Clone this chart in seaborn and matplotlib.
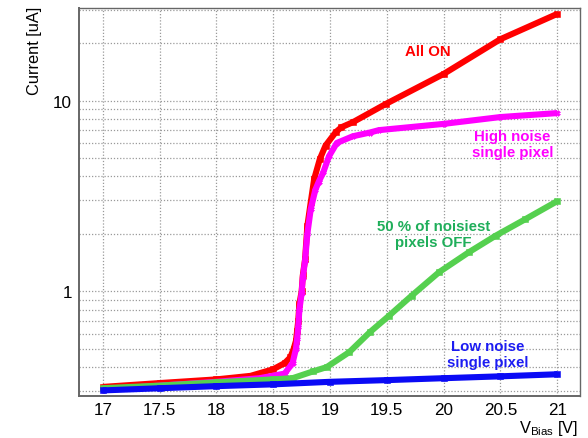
import numpy as np
import pandas as pd
import matplotlib
matplotlib.use("Agg")
import matplotlib.pyplot as plt
import matplotlib.ticker as mticker
import seaborn as sns

# Bias scan: current vs bias voltage for four pixel configurations
v_all_on = [17.0, 17.5, 18.0, 18.3, 18.5, 18.6, 18.65, 18.68, 18.70, 18.71, 18.72,
            18.73, 18.75, 18.76, 18.78, 18.80, 18.83, 18.86, 18.91, 18.96, 19.05,
            19.1, 19.2, 19.49, 20.0, 20.5, 21.0]
i_all_on = [0.315, 0.33, 0.345, 0.36, 0.39, 0.42, 0.45, 0.50, 0.55, 0.62, 0.70,
            0.86, 1.0, 1.21, 1.47, 2.2, 2.93, 3.88, 4.94, 5.81, 6.83,
            7.25, 7.7, 9.6, 13.8, 21.0, 28.5]

v_high = [17.0, 17.5, 18.0, 18.38, 18.6, 18.67, 18.70, 18.71, 18.72, 18.73, 18.75,
          18.76, 18.78, 18.80, 18.83, 18.87, 18.90, 18.94, 18.99, 19.06, 19.2,
          19.35, 19.43, 20.0, 20.5, 21.0]
i_high = [0.305, 0.32, 0.335, 0.35, 0.37, 0.42, 0.50, 0.56, 0.65, 0.80, 0.98,
          1.18, 1.45, 2.0, 2.7, 3.4, 3.75, 4.2, 5.1, 6.0, 6.5,
          6.8, 7.0, 7.55, 8.2, 8.6]

v_half_off = [17.0, 17.5, 18.0, 18.5, 18.67, 18.85, 18.97, 19.17, 19.35, 19.52,
              19.72, 19.96, 20.22, 20.46, 20.72, 21.0]
i_half_off = [0.31, 0.32, 0.333, 0.345, 0.35, 0.38, 0.40, 0.48, 0.61, 0.745,
              0.95, 1.26, 1.6, 1.96, 2.39, 2.97]

v_low = [17.0, 17.5, 18.0, 18.5, 19.0, 19.5, 20.0, 20.5, 21.0]
i_low = [0.302, 0.31, 0.318, 0.325, 0.335, 0.342, 0.35, 0.358, 0.367]

x_ticks = [17, 17.5, 18, 18.5, 19, 19.5, 20, 20.5, 21]
x_tick_labels = ["17", "17.5", "18", "18.5", "19", "19.5", "20", "20.5", "21"]

sns.set_theme(style="white")
plt.rcParams["font.family"] = ["Liberation Sans", "DejaVu Sans"]
plt.rcParams["mathtext.fontset"] = "custom"
plt.rcParams["mathtext.rm"] = "Liberation Sans"
plt.rcParams["mathtext.it"] = "Liberation Sans:italic"
plt.rcParams["mathtext.bf"] = "Liberation Sans:bold"

fig = plt.figure(figsize=(5.88, 4.39), dpi=100)
ax = fig.add_axes([79 / 588, 1 - 396.5 / 439, (580 - 79) / 588, (396.5 - 9) / 439])

series = [
    (v_all_on, i_all_on, "#ff0000", "s"),
    (v_high, i_high, "#ff00ff", "X"),
    (v_half_off, i_half_off, "#55d04f", "s"),
    (v_low, i_low, "#0a0af5", "s"),
]
for xs, ys, col, mk in series:
    df = pd.DataFrame({"V": xs, "I": ys})
    sns.lineplot(data=df, x="V", y="I", ax=ax, color=col, linewidth=4.4,
                 marker=mk, markersize=4.2, markeredgewidth=0.4,
                 markeredgecolor=col, estimator=None, sort=True, zorder=3,
                 solid_capstyle="butt", solid_joinstyle="round")

ax.set_yscale("log")
ax.set_xlim(16.79, 21.2)
ax.set_ylim(0.284, 30.6)

ax.set_xticks(x_ticks)
ax.set_xticklabels(x_tick_labels)
ax.xaxis.set_minor_locator(mticker.MultipleLocator(0.1))
ax.yaxis.set_major_locator(mticker.FixedLocator([1, 10]))
ax.yaxis.set_major_formatter(mticker.FixedFormatter(["1", "10"]))
ax.yaxis.set_minor_locator(mticker.LogLocator(base=10, subs=np.arange(2, 10), numticks=20))
ax.yaxis.set_minor_formatter(mticker.NullFormatter())

ax.tick_params(axis="both", which="both", direction="in", colors="#555555",
               labelcolor="black", labelsize=12.3, width=1.0)
ax.tick_params(axis="x", which="major", length=7, pad=5)
ax.tick_params(axis="x", which="minor", length=4.5)
ax.tick_params(axis="y", which="major", length=15, pad=5)
ax.tick_params(axis="y", which="minor", length=8)
ax.tick_params(top=False, right=False, which="both")

grid_style = dict(color="#9a9a9a", linestyle=(0, (1, 1.5)), linewidth=0.9)
ax.grid(True, which="major", axis="x", **grid_style)
ax.grid(True, which="both", axis="y", **grid_style)
ax.set_axisbelow(True)

for side, sp in ax.spines.items():
    sp.set_visible(True)
    sp.set_color("#666666")
    sp.set_linewidth(1.4 if side in ("left", "bottom") else 1.0)

ax.set_xlabel("")
ax.set_ylabel("")

# Series labels
ax.text(19.857, 18.1, "All ON", color="#ff0000", fontsize=10.8,
        fontweight="bold", ha="center", va="center")
ax.text(20.606, 5.93, "High noise\nsingle pixel", color="#ff00ff", fontsize=10.8,
        fontweight="bold", ha="center", va="center", multialignment="center")
ax.text(19.91, 2.0, "50 % of noisiest\npixels OFF", color="#1fae5a", fontsize=10.8,
        fontweight="bold", ha="center", va="center", multialignment="center")
ax.text(20.386, 0.469, "Low noise\nsingle pixel", color="#1c1cf2", fontsize=10.8,
        fontweight="bold", ha="center", va="center", multialignment="center")

# Axis titles placed ROOT-style at the axis ends
fig.text(35 / 588, 1 - 7 / 439, "Current [uA]", rotation=90, ha="center",
         va="top", fontsize=11.8, color="black")
fig.text(578 / 588, 1 - 433 / 439, r"V$_{\mathrm{Bias}}$ [V]", ha="right",
         va="baseline", fontsize=11.8, color="black")

fig.savefig("out.png", dpi=100, facecolor="white")
